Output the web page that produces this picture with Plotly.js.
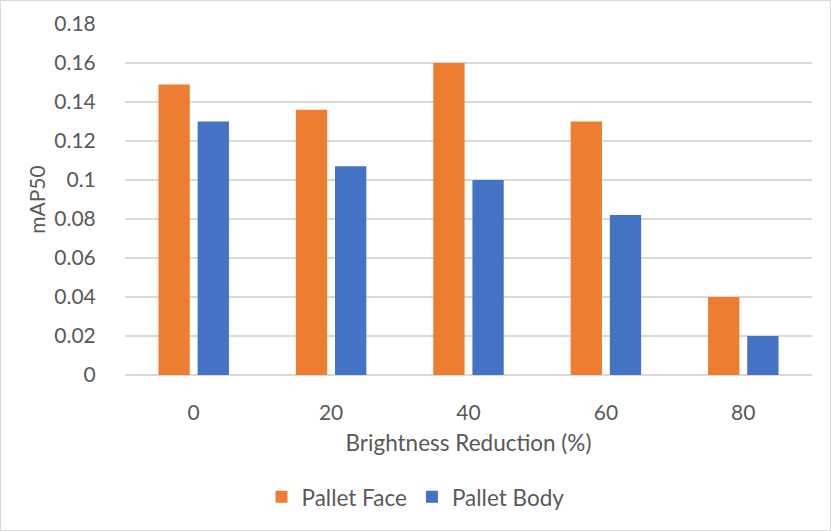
<!DOCTYPE html>
<html>
<head>
<meta charset="utf-8">
<script src="https://cdn.plot.ly/plotly-3.0.1.min.js"></script>
<style>
  html, body { margin: 0; padding: 0; background: #fff; }
  #chart { width: 829px; height: 529px; border: 1px solid #d9d9d9; }
</style>
</head>
<body>
<div id="chart"></div>
<script>
// brightness reduction levels (%) and mAP50 per class
const categories = ['0', '20', '40', '60', '80'];
const palletFace = [0.149, 0.136, 0.160, 0.130, 0.040];
const palletBody = [0.130, 0.107, 0.100, 0.082, 0.020];
const yTicks = [0, 0.02, 0.04, 0.06, 0.08, 0.1, 0.12, 0.14, 0.16, 0.18];

const textColor = '#595959';
const gridColor = '#d9d9d9';
const fontFamily = 'Lato, "Open Sans", sans-serif';

const data = [
   {
      type: 'bar',
      name: 'Pallet Face',
      x: categories,
      y: palletFace,
      marker: {color: '#ED7D31'}
   },
   {
      type: 'bar',
      name: 'Pallet Body',
      x: categories,
      y: palletBody,
      marker: {color: '#4472C4'}
   }
];

const layout = {
   width: 829,
   height: 529,
   margin: {l: 124, r: 18, t: 23, b: 155},
   paper_bgcolor: '#fff',
   plot_bgcolor: '#fff',
   font: {family: fontFamily, size: 21, color: textColor},
   barmode: 'group',
   bargap: 0.43,
   bargroupgap: 0.2,
   xaxis: {
      type: 'category',
      showgrid: false,
      showline: false,
      zeroline: false,
      ticks: 'outside',
      ticklen: 19,
      tickcolor: 'rgba(0,0,0,0)',
      tickfont: {family: fontFamily, size: 21, color: textColor},
      title: {text: 'Brightness Reduction (%)', standoff: 12,
              font: {family: fontFamily, size: 22.5, color: textColor}}
   },
   yaxis: {
      range: [0, 0.18],
      tickvals: yTicks,
      ticktext: yTicks.map(v => String(v)),
      showgrid: true,
      gridcolor: gridColor,
      gridwidth: 1.3,
      zeroline: true,
      zerolinecolor: gridColor,
      zerolinewidth: 1.3,
      showline: false,
      ticks: 'outside',
      ticklen: 24,
      tickcolor: 'rgba(0,0,0,0)',
      tickfont: {family: fontFamily, size: 21, color: textColor},
      title: {text: 'mAP50', standoff: 2,
              font: {family: fontFamily, size: 21, color: textColor}}
   },
   showlegend: true,
   legend: {
      orientation: 'h',
      xref: 'container',
      yref: 'container',
      x: 0.5,
      xanchor: 'center',
      y: 0.062,
      yanchor: 'middle',
      font: {family: fontFamily, size: 22.5, color: textColor},
      itemwidth: 30
   }
};

Plotly.newPlot('chart', data, layout, {displayModeBar: false, staticPlot: true});
</script>
</body>
</html>
